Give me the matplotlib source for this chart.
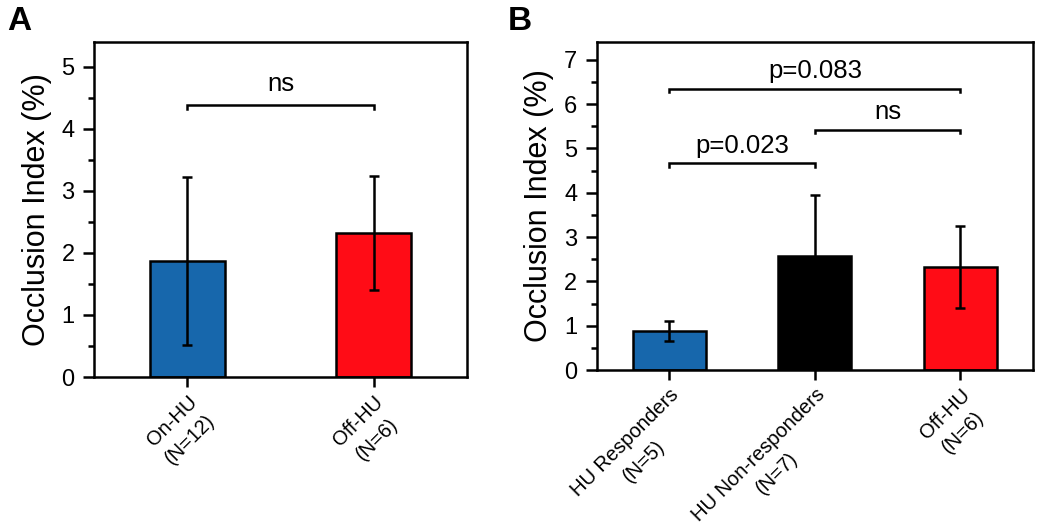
import matplotlib
matplotlib.use("Agg")
import matplotlib.pyplot as plt
from matplotlib.transforms import ScaledTranslation

plt.rcParams['font.family'] = ['Liberation Sans', 'DejaVu Sans']

# ── DATA ──────────────────────────────────────────────────────────────────────
a_labels = ["On-HU\n(N=12)", "Off-HU\n(N=6)"]
a_means  = [1.87, 2.32]
a_err    = [1.36, 0.92]
a_colors = ["#1767AC", "#FF0C16"]

b_labels = ["HU Responders\n(N=5)", "HU Non-responders\n(N=7)", "Off-HU\n(N=6)"]
b_means  = [0.88, 2.58, 2.32]
b_err    = [0.23, 1.37, 0.92]
b_colors = ["#1767AC", "#000000", "#FF0C16"]

# (x1, x2, y, text, text_y)
a_sig = [(1, 2, 4.38, "ns", 4.72)]
b_sig = [(1, 3, 6.35, "p=0.083", 6.74),
         (2, 3, 5.42, "ns", 5.81),
         (1, 2, 4.67, "p=0.023", 5.06)]

LW = 1.8

def style(ax, ymax, yticks):
    for s in ax.spines.values():
        s.set_linewidth(LW)
    ax.set_ylim(0, ymax)
    ax.set_yticks(yticks)
    minors = [t + 0.5 for t in yticks if t + 0.5 < ymax]
    ax.set_yticks(minors, minor=True)
    ax.tick_params(axis="y", which="major", direction="out", length=8, width=LW, labelsize=17, pad=6)
    ax.tick_params(axis="y", which="minor", direction="out", length=4.5, width=LW)
    ax.tick_params(axis="x", which="major", direction="out", length=7, width=LW, labelsize=14.5, pad=4)
    ax.tick_params(axis="x", which="minor", bottom=False)
    ax.set_ylabel("Occlusion Index (%)", fontsize=22, labelpad=7)

def bars(ax, labels, means, err, colors, width, dx):
    x = list(range(1, len(means) + 1))
    ax.bar(x, means, width=width, color=colors, edgecolor="black", linewidth=LW, zorder=2)
    ax.errorbar(x, means, yerr=err, fmt="none", ecolor="black", elinewidth=LW,
                capsize=3.3, capthick=LW, zorder=3)
    ax.set_xticks(x)
    ax.set_xticklabels(labels, rotation=45, ha="right", va="top",
                       rotation_mode="anchor", multialignment="center", linespacing=1.45)
    off = ScaledTranslation(dx / 100, 0, fig.dpi_scale_trans)
    for lab in ax.get_xticklabels():
        lab.set_transform(lab.get_transform() + off)
    ax.set_xlim(0.5, len(means) + 0.5)

def sig(ax, items, tick):
    for x1, x2, y, txt, ty in items:
        ax.plot([x1, x1, x2, x2], [y - tick, y, y, y - tick], color="black", lw=LW,
                solid_joinstyle="miter", clip_on=False)
        ax.text((x1 + x2) / 2, ty, txt, ha="center", va="center", fontsize=18.5)

fig = plt.figure(figsize=(10.5, 5.31), dpi=100)
axA = fig.add_axes([0.0895, 0.290, 0.3552, 0.631])
axB = fig.add_axes([0.5683, 0.3032, 0.4155, 0.6177])

bars(axA, a_labels, a_means, a_err, a_colors, 0.40, 13)
style(axA, 5.4, [0, 1, 2, 3, 4, 5])
sig(axA, a_sig, 0.06)

bars(axB, b_labels, b_means, b_err, b_colors, 0.50, 18)
style(axB, 7.4, [0, 1, 2, 3, 4, 5, 6, 7])
sig(axB, b_sig, 0.08)

fig.text(0.007, 0.988, "A", fontsize=24, fontweight="bold", ha="left", va="top")
fig.text(0.484, 0.988, "B", fontsize=24, fontweight="bold", ha="left", va="top")

fig.savefig("out.png", dpi=100)
